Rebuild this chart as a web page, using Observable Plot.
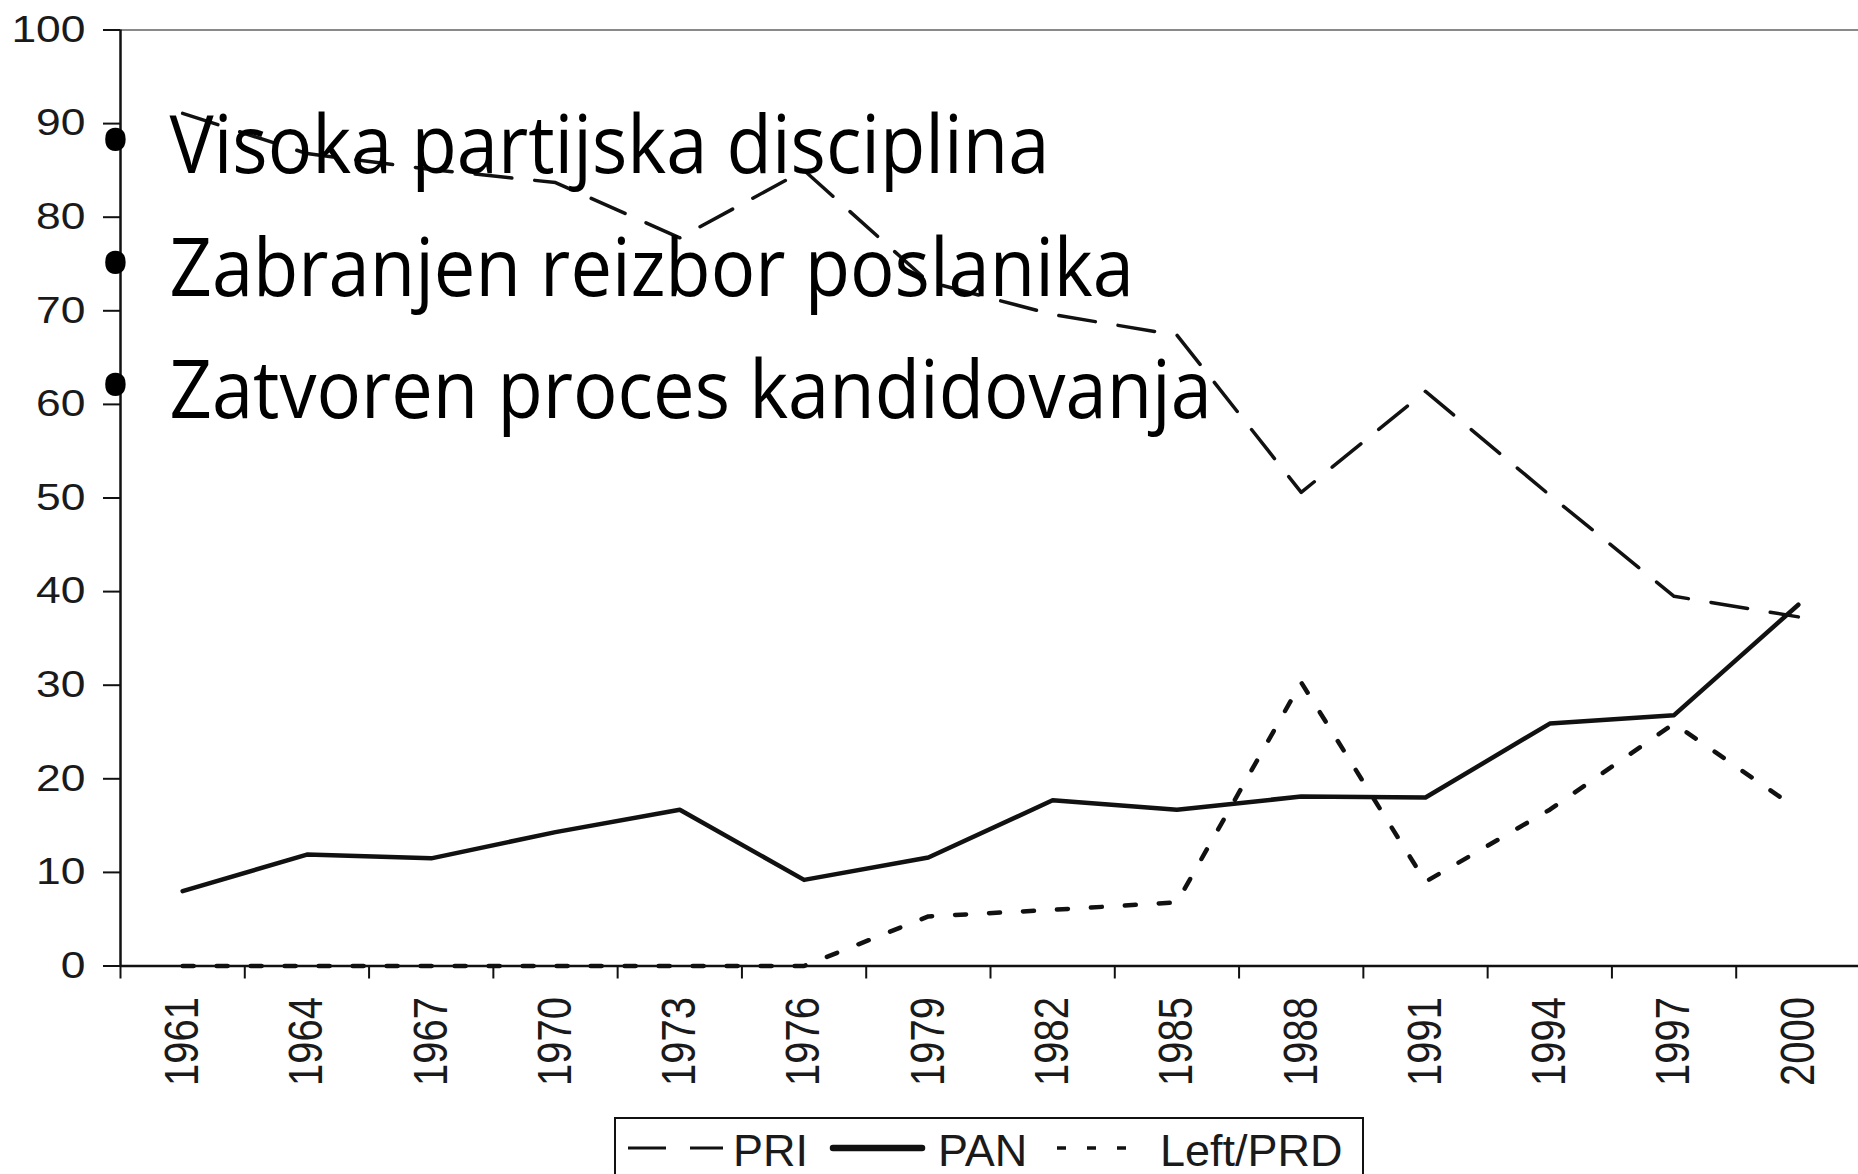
<!DOCTYPE html>
<html>
<head>
<meta charset="utf-8">
<script src="https://cdn.jsdelivr.net/npm/d3@7"></script>
<script src="https://cdn.jsdelivr.net/npm/@observablehq/plot@0.6"></script>
<style>
  html, body { margin: 0; padding: 0; background: #fff; overflow: hidden; }
  #chart { position: relative; width: 1858px; }
  #chart > svg { display: block; }
</style>
</head>
<body>
<div id="chart"></div>
<script>
// ---------- data ----------
const years = [1961, 1964, 1967, 1970, 1973, 1976, 1979, 1982, 1985, 1988, 1991, 1994, 1997, 2000];
const pri = [91.1, 86.8, 85.1, 83.7, 77.8, 85.0, 73.1, 69.6, 67.4, 50.6, 61.4, 50.3, 39.5, 37.3];
const pan = [8.0, 11.9, 11.5, 14.3, 16.7, 9.2, 11.6, 17.7, 16.7, 18.1, 18.0, 25.9, 26.8, 38.6];
const prd = [0, 0, 0, 0, 0, 0, 5.3, 6.0, 6.8, 30.3, 9.0, 16.7, 25.9, 16.7];
const yTicks = [0, 10, 20, 30, 40, 50, 60, 70, 80, 90, 100];
const seriesNames = ["PRI", "PAN", "Left/PRD"];
const bulletLines = ["Visoka partijska disciplina", "Zabranjen reizbor poslanika", "Zatvoren proces kandidovanja"];
const bulletChar = "\u2022";

// ---------- layout ----------
const W = 1858, H = 1100;
const frameTop = 29.5, frameBottom = 965.5, frameLeft = 120, frameRightEdge = 1860;
const half = (years[1] - years[0]) / 2;
const xDomain = [years[0] - half, years[years.length - 1] + half];
const boundaries = years.map(y => y - half);
const chartFont = "'Liberation Sans', Arial, Helvetica, sans-serif";
const bulletFont = "'Open Sans', 'Noto Sans', sans-serif";
const ink = "#111";

const marks = [
  Plot.ruleY([100], {stroke: "#8a8a8a", strokeWidth: 2}),
  Plot.ruleX([xDomain[0]], {stroke: ink, strokeWidth: 2.5}),
  Plot.axisY({ticks: yTicks, tickSize: 17, tickPadding: 18, fontSize: 37, strokeWidth: 2, stroke: ink, fill: "#1a1a1a", tickFormat: d => String(d)}),
  Plot.axisX({ticks: boundaries, tickSize: 13, strokeWidth: 2, stroke: ink, tickFormat: () => ""}),
  Plot.axisX({ticks: years, tickSize: 0, tickPadding: 31, tickRotate: -90, fontSize: 40, fill: "#1a1a1a", tickFormat: d => String(d)}),
  Plot.line(pri, {x: years, y: d => d, stroke: ink, strokeWidth: 3.5, strokeDasharray: "37,23"}),
  Plot.line(pan, {x: years, y: d => d, stroke: ink, strokeWidth: 4.5}),
  Plot.line(prd, {x: years, y: d => d, stroke: ink, strokeWidth: 4.5, strokeDasharray: "11,23"}),
  Plot.ruleY([0], {stroke: ink, strokeWidth: 2.5}),
  ...bulletLines.map((t, i) => Plot.text([t], {
    text: d => d, frameAnchor: "top-left", dx: 49, dy: 143 + i * 122.5,
    textAnchor: "start", lineAnchor: "bottom", fontSize: 80,
    fontFamily: bulletFont, fill: "#000"
  })),
  ...bulletLines.map((t, i) => Plot.text([bulletChar], {
    text: d => d, frameAnchor: "top-left", dx: -5, dy: 146 + i * 122.5,
    textAnchor: "middle", lineAnchor: "bottom", fontSize: 98,
    fontFamily: bulletFont, fill: "#000"
  }))
];

const plot = Plot.plot({
  width: W,
  height: H,
  marginTop: frameTop,
  marginBottom: H - frameBottom,
  marginLeft: frameLeft,
  marginRight: 0,
  style: {fontFamily: chartFont, background: "#fff", color: ink, overflow: "visible"},
  x: {type: "linear", domain: xDomain, range: [frameLeft, frameRightEdge]},
  y: {domain: [0, 100]},
  marks
});

const chart = document.getElementById("chart");
chart.appendChild(plot);

const addTransform = (n, t) => n.setAttribute("transform", (n.getAttribute("transform") || "") + " " + t);

// stretch tick labels horizontally, as in the reference image
d3.select(plot).selectAll('g[aria-label="y-axis tick label"] text').each(function () { addTransform(this, "scale(1.2,1)"); });
d3.select(plot).selectAll('g[aria-label="x-axis tick label"] text').each(function () {
  if (this.textContent) addTransform(this, "scale(1,1.2)");
});

// fit the bullet text to the reference width (Calibri substitute)
const bt = d3.select(plot).selectAll("text").nodes().filter(n => bulletLines.includes(n.textContent));
if (bt.length) {
  const len = bt[0].getComputedTextLength();
  if (len > 0) {
    const k = 880 / len;
    bt.forEach(n => addTransform(n, `scale(${k},1)`));
  }
}

// ---------- legend (below the plot) ----------
const legendLayout = [
  {x1: 14, x2: 109, dash: "38,24", width: 3, cap: "butt", tx: 119},
  {x1: 219, x2: 308, dash: null, width: 6.5, cap: "round", tx: 324},
  {x1: 443, x2: 513, dash: "9,21", width: 3.5, cap: "butt", tx: 546}
];
const legend = d3.select(chart).append("svg")
  .attr("width", 760).attr("height", 70)
  .style("display", "block")
  .style("margin-left", "614px")
  .style("margin-top", "17px");
legend.append("rect")
  .attr("x", 1).attr("y", 1).attr("width", 748).attr("height", 120)
  .attr("fill", "none").attr("stroke", ink).attr("stroke-width", 2);
seriesNames.forEach((name, i) => {
  const L = legendLayout[i];
  legend.append("line")
    .attr("x1", L.x1).attr("x2", L.x2).attr("y1", 31).attr("y2", 31)
    .attr("stroke", ink).attr("stroke-width", L.width)
    .attr("stroke-linecap", L.cap)
    .attr("stroke-dasharray", L.dash);
  legend.append("text")
    .attr("x", L.tx).attr("y", 49)
    .attr("font-family", chartFont).attr("font-size", 45)
    .attr("fill", "#1a1a1a")
    .text(name);
});
</script>
</body>
</html>
